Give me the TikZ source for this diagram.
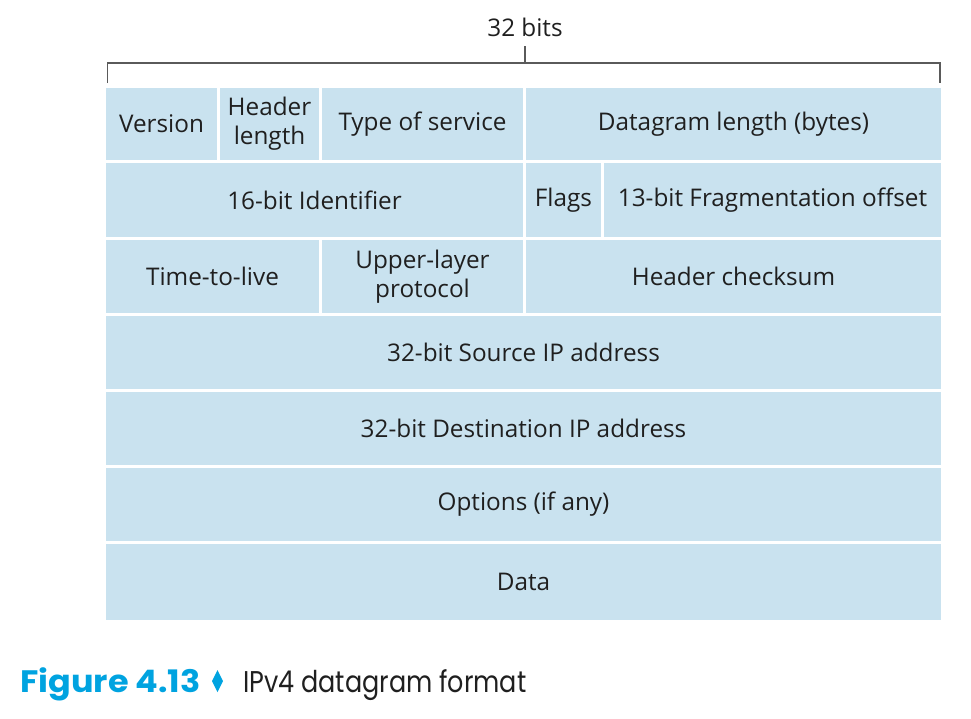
\documentclass[tikz,border=0pt]{standalone}
\usepackage{fontspec}
\usepackage{graphicx}
\setmainfont{Open Sans}
\newfontfamily\capfont{Poppins}
\definecolor{cellblue}{RGB}{201,226,239}
\definecolor{capblue}{RGB}{0,163,224}
\definecolor{bracketgray}{RGB}{90,90,90}
\begin{document}
\begin{tikzpicture}[x=1pt,y=-1pt,
  celltext/.style={font=\fontsize{24.3}{29}\selectfont, text=black!88, align=center, inner sep=0pt},
  bracket/.style={draw=bracketgray, line width=1.4pt}]
\useasboundingbox (0,0) rectangle (971,718);
\newcommand{\mycell}[6]{%
  \fill[cellblue] (#2,#3) rectangle (#4,#5);
  \node[celltext] (#1) at ({(#2+#4)/2},{(#3+#5)/2}) {#6};}
% row 1
\mycell{ver}{106}{88}{217}{160}{Version}
\mycell{hlen}{220}{88}{319}{160}{Header\\length}
\mycell{tos}{322}{88}{523}{160}{Type of service}
\mycell{dlen}{526}{88}{941}{160}{Datagram length (bytes)}
% row 2
\mycell{ident}{106}{163}{523}{237}{16-bit Identifier}
\mycell{flags}{526}{163}{601}{237}{Flags}
\mycell{frag}{604}{163}{941}{237}{13-bit Fragmentation offset}
% row 3
\mycell{ttl}{106}{240}{319}{313}{Time-to-live}
\mycell{proto}{322}{240}{523}{313}{Upper-layer\\protocol}
\mycell{csum}{526}{240}{941}{313}{Header checksum}
% rows 4-7
\mycell{src}{106}{316}{941}{389}{32-bit Source IP address}
\mycell{dst}{106}{392}{941}{465}{32-bit Destination IP address}
\mycell{opt}{106}{468}{941}{541}{Options (if any)}
\mycell{data}{106}{544}{941}{620}{Data}
% bracket
\coordinate (bl) at (107.5,83);
\coordinate (br) at (940,83);
\coordinate (bc) at (525,63);
\coordinate (bt) at (525,46);
\draw[bracket] (bl) |- (br |- bc) -- (br);
\draw[bracket] (bc) -- (bt);
\node[celltext, anchor=base] (bits) at (525,36) {32 bits};
% caption
\node[anchor=base west, inner sep=0pt, text=capblue, font=\capfont\bfseries\fontsize{31}{36}\selectfont] (fig) at (20,692) {\scalebox{1.08}[1]{Figure 4.13}};
\fill[capblue] (217.5,670) -- (223,681) -- (217.5,692) -- (212,681) -- cycle;
\node[anchor=base west, inner sep=0pt, text=black!88, font=\capfont\fontsize{30}{35}\selectfont] (cap) at (243,692) {\scalebox{0.85}[1]{IPv4 datagram format}};
\end{tikzpicture}
\end{document}
